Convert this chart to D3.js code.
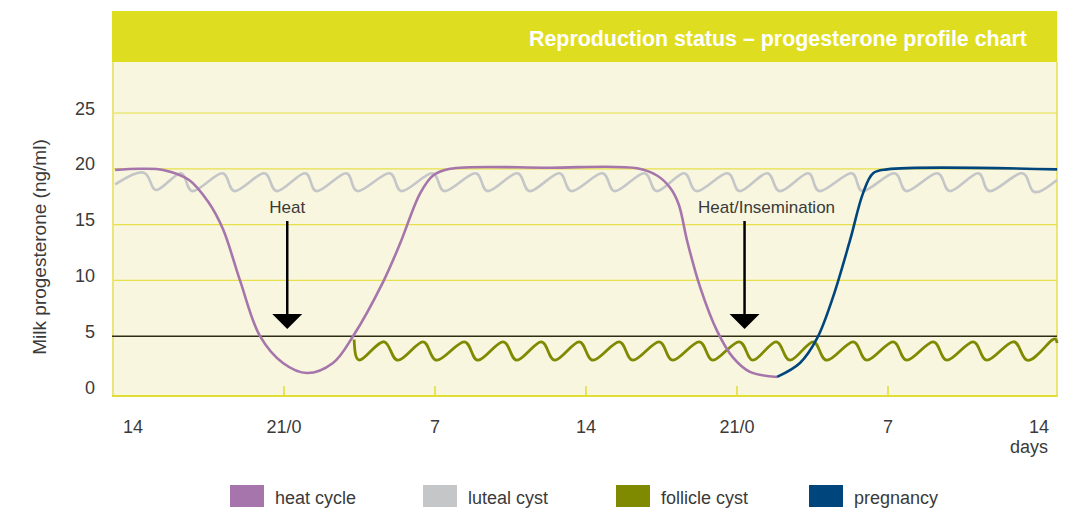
<!DOCTYPE html>
<html><head><meta charset="utf-8">
<script src="https://cdn.jsdelivr.net/npm/d3@7"></script>
<style>
html,body{margin:0;padding:0;background:#fff;}
svg text{font-family:"Liberation Sans",Arial,Helvetica,sans-serif;}
</style></head>
<body><svg id="c" width="1065" height="512"></svg>
<script>
// ---------- data (days on a continuous axis; value in ng/ml) ----------
const titleText = "Reproduction status \u2013 progesterone profile chart";
const yAxisTitle = "Milk progesterone (ng/ml)";
const yTicks = [0, 5, 10, 15, 20, 25];
const xTickDays = [0, 7, 14, 21, 28, 35, 42];
const xTickLabels = ["14", "21/0", "7", "14", "21/0", "7", "14"];
const xInnerTicks = [7, 14, 21, 28, 35];
const xUnit = "days";
const threshold = 5;

const heatCycle = [[-0.83,19.9],[0.3,20.0],[1.4,19.9],[2.6,19.0],[3.5,17.0],[4.17,14.6],[4.96,10],[5.89,5],[6.95,2.6],[8.07,1.7],[9.27,2.6],[10.2,5],[11.59,9.85],[12.38,13.3],[13.31,17.8],[13.91,19.4],[14.7,20.0],[19.3,20.1],[23.37,20.05],[24.29,19.4],[24.9,18.3],[25.3,16.8],[25.68,13.6],[26.29,9.4],[27.07,5.5],[27.81,3.1],[28.6,1.8],[29.86,1.35]];

const lutealCyst = [[-0.83,18.6],[0.56,19.6],[1.11,18.1],[2.23,19.6],[2.78,18.0],[4.13,19.6],[4.73,18.0],[6.07,19.6],[6.68,18.0],[7.97,19.6],[8.53,18.0],[9.87,19.6],[10.43,18.0],[11.87,19.6],[12.47,18.0],[13.86,19.6],[14.46,18.0],[15.86,19.6],[16.46,18.0],[17.80,19.6],[18.41,18.0],[19.75,19.6],[20.35,18.0],[21.74,19.6],[22.35,18.0],[23.69,19.6],[24.29,18.0],[25.54,19.6],[26.15,18.0],[27.54,19.6],[28.14,18.0],[29.39,19.6],[30.00,18.0],[31.29,19.6],[31.85,18.0],[33.29,19.6],[33.84,18.0],[35.28,19.6],[35.88,18.0],[37.27,19.6],[37.88,18.0],[39.17,19.6],[39.73,18.0],[41.16,19.6],[41.72,18.0],[42.84,19.0]];

const follicleCyst = [[10.25,4.7],[10.57,2.9],[11.64,4.5],[12.29,2.85],[13.44,4.5],[14.09,2.85],[15.35,4.5],[15.99,2.85],[17.15,4.5],[17.80,2.85],[18.92,4.5],[19.56,2.85],[20.68,4.5],[21.33,2.85],[22.53,4.5],[23.18,2.85],[24.38,4.5],[25.03,2.85],[26.24,4.5],[26.89,2.85],[28.09,4.5],[28.74,2.85],[29.81,4.5],[30.46,2.85],[31.53,4.5],[32.17,2.85],[33.38,4.5],[34.03,2.85],[35.23,4.5],[35.88,2.85],[37.09,4.5],[37.74,2.85],[38.94,4.5],[39.59,2.85],[40.80,4.5],[41.45,2.85],[42.51,4.5],[42.84,4.4]];

const pregnancy = [[29.86,1.35],[30.92,2.6],[31.71,4.8],[32.45,8.5],[33.24,13.6],[33.84,17.8],[34.31,19.6],[34.96,19.95],[42.84,19.95]];

const annotations = [{day: 7.15, label: "Heat"}, {day: 28.35, label: "Heat/Insemination"}];

const seriesNames = ["heat cycle", "luteal cyst", "follicle cyst", "pregnancy"];
const seriesColors = ["#a675ab", "#c5c6c8", "#7f8a00", "#00467d"];

// ---------- layout ----------
const svg = d3.select("#c");
const P = {left: 112, right: 1057, top: 11, titleBottom: 62, bottom: 396};
const x = d3.scaleLinear().domain([0, 42]).range([133, 1039]);
const y = d3.scaleLinear().domain([0, 25]).range([392, 113]);

// panel
svg.append("rect").attr("x", P.left).attr("y", P.titleBottom).attr("width", P.right - P.left)
  .attr("height", P.bottom - P.titleBottom).attr("fill", "#f8f6df");
svg.append("rect").attr("x", P.left).attr("y", P.top).attr("width", P.right - P.left)
  .attr("height", P.titleBottom - P.top).attr("fill", "#dfdd1f");
svg.append("text").attr("x", 1027).attr("y", 46).attr("text-anchor", "end")
  .attr("fill", "#fff").attr("font-weight", "bold").attr("font-size", 21.4).text(titleText);

// gridlines
svg.append("g").selectAll("line").data(yTicks.filter(v => v > 0 && v !== threshold)).join("line")
  .attr("x1", P.left).attr("x2", P.right).attr("y1", d => y(d)).attr("y2", d => y(d))
  .attr("stroke", "#e6e04a").attr("stroke-width", 1.2);

// borders
svg.append("line").attr("x1", P.left + 1).attr("x2", P.left + 1).attr("y1", P.titleBottom).attr("y2", P.bottom)
  .attr("stroke", "#ebe67a").attr("stroke-width", 2);
svg.append("line").attr("x1", P.right).attr("x2", P.right).attr("y1", P.titleBottom).attr("y2", P.bottom)
  .attr("stroke", "#e6e04a").attr("stroke-width", 1.5);
svg.append("line").attr("x1", P.left).attr("x2", P.right + 0.75).attr("y1", P.bottom).attr("y2", P.bottom)
  .attr("stroke", "#e2dd35").attr("stroke-width", 2);

// x tick marks
svg.append("g").selectAll("line").data(xInnerTicks).join("line")
  .attr("x1", d => x(d)).attr("x2", d => x(d)).attr("y1", P.bottom - 10).attr("y2", P.bottom)
  .attr("stroke", "#e2dd35").attr("stroke-width", 1.5);

// threshold
svg.append("line").attr("x1", P.left).attr("x2", P.right).attr("y1", y(threshold)).attr("y2", y(threshold))
  .attr("stroke", "#2e2e14").attr("stroke-width", 1.5);

// y tick labels
svg.append("g").selectAll("text").data(yTicks).join("text")
  .attr("x", 95).attr("y", d => y(d) + 1.5).attr("text-anchor", "end")
  .attr("font-size", 18).attr("fill", "#3a3a3a").text(d => d);
svg.append("text").attr("transform", "translate(46,247) rotate(-90)").attr("text-anchor", "middle")
  .attr("font-size", 19).attr("fill", "#3a3a3a").text(yAxisTitle);

// x labels
svg.append("g").selectAll("text").data(xTickDays).join("text")
  .attr("x", d => x(d)).attr("y", 433).attr("text-anchor", "middle")
  .attr("font-size", 18).attr("fill", "#3a3a3a").text((d, i) => xTickLabels[i]);
svg.append("text").attr("x", 1048).attr("y", 453).attr("text-anchor", "end")
  .attr("font-size", 18).attr("fill", "#3a3a3a").text(xUnit);

// curves
const smooth = d3.line().x(d => x(d[0])).y(d => y(d[1])).curve(d3.curveCatmullRom.alpha(0.5));
const wave = d3.line().x(d => x(d[0])).y(d => y(d[1])).curve(d3.curveNatural);
const drawSeries = [[lutealCyst, 1, 2.6, wave], [follicleCyst, 2, 2.8, wave], [heatCycle, 0, 2.6, smooth], [pregnancy, 3, 2.6, smooth]];
drawSeries.forEach(([data, ci, w, gen]) => {
  svg.append("path").attr("d", gen(data)).attr("fill", "none")
    .attr("stroke", seriesColors[ci]).attr("stroke-width", w).attr("stroke-linejoin", "round");
});

// annotations (arrows)
const ann = svg.append("g");
annotations.forEach((a, i) => {
  const ax = x(a.day);
  ann.append("line").attr("x1", ax).attr("x2", ax).attr("y1", 221).attr("y2", 315)
    .attr("stroke", "#000").attr("stroke-width", 2.5);
  ann.append("path").attr("d", `M${ax - 15},314 L${ax + 15},314 L${ax},329 Z`).attr("fill", "#000");
  ann.append("text").attr("x", i === 0 ? ax : ax + 22).attr("y", 213).attr("text-anchor", "middle")
    .attr("font-size", 17).attr("fill", "#3a3a3a").text(a.label);
});

// legend
const lg = svg.append("g").selectAll("g").data(seriesNames).join("g")
  .attr("transform", (d, i) => `translate(${230 + i * 193},485)`);
lg.append("rect").attr("width", 34).attr("height", 22).attr("fill", (d, i) => seriesColors[i]);
lg.append("text").attr("x", 45).attr("y", 19).attr("font-size", 18).attr("fill", "#3a3a3a").text(d => d);
</script></body></html>
